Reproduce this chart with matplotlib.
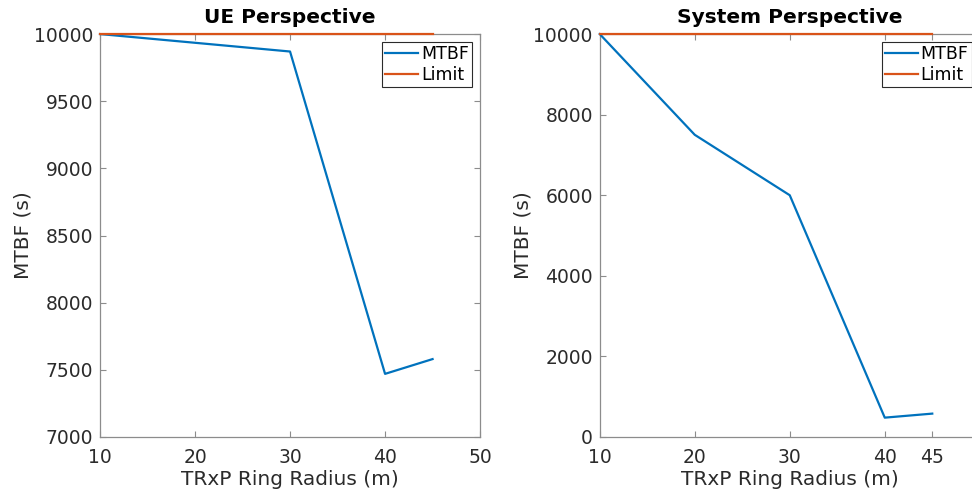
import matplotlib
matplotlib.use("Agg")
import matplotlib.pyplot as plt

# Ring radius (m) and mean time between failures (s)
ue_radius = [10, 30, 40, 45]
ue_mtbf = [10000, 9870, 7470, 7580]

sys_radius = [10, 20, 30, 40, 45]
sys_mtbf = [10000, 7500, 6000, 480, 580]

limit_radius = [10, 45]
limit_value = [10000, 10000]

ue_xticks = [10, 20, 30, 40, 50]
ue_yticks = [7000, 7500, 8000, 8500, 9000, 9500, 10000]
sys_xticks = [10, 20, 30, 40, 45]
sys_yticks = [0, 2000, 4000, 6000, 8000, 10000]

BLUE = "#0072BD"
ORANGE = "#D95319"
AXC = "#8c8c8c"
TXT = "#2b2b2b"

plt.rcParams["font.family"] = ["DejaVu Sans"]

fig = plt.figure(figsize=(9.72, 4.95), dpi=100)
ax1 = fig.add_axes([0.1029, 0.1172, 0.391, 0.814])
ax2 = fig.add_axes([0.617, 0.1172, 0.391, 0.814])


def style(ax, xticks, yticks, xlim, ylim, title):
    ax.set_xlim(*xlim)
    ax.set_ylim(*ylim)
    ax.set_xticks(xticks)
    ax.set_yticks(yticks)
    ax.tick_params(direction="in", length=4, width=0.8, colors=AXC,
                   labelcolor=TXT, labelsize=13.5, top=True, right=True)
    ax.tick_params(axis="x", pad=8)
    ax.tick_params(axis="y", pad=5)
    for s in ax.spines.values():
        s.set_color(AXC)
        s.set_linewidth(0.9)
    ax.set_xlabel("TRxP Ring Radius (m)", fontsize=14.5, color=TXT, labelpad=2)
    ax.set_ylabel("MTBF (s)", fontsize=14.5, color=TXT, labelpad=1)
    ax.set_title(title, fontsize=14.5, fontweight="bold", color="black", pad=8)
    leg = ax.legend(loc="upper right", fontsize=12.5, handlelength=1.9,
                    handletextpad=0.15, borderpad=0.2, labelspacing=0.15,
                    fancybox=False, framealpha=1, borderaxespad=0.45)
    leg.get_frame().set_edgecolor(TXT)
    leg.get_frame().set_linewidth(0.8)


ax1.plot(ue_radius, ue_mtbf, color=BLUE, lw=1.6, label="MTBF",
         clip_on=False, zorder=3)
ax1.plot(limit_radius, limit_value, color=ORANGE, lw=1.6, label="Limit",
         clip_on=False, zorder=3)
style(ax1, ue_xticks, ue_yticks, (10, 50), (7000, 10000), "UE Perspective")

ax2.plot(sys_radius, sys_mtbf, color=BLUE, lw=1.6, label="MTBF",
         clip_on=False, zorder=3)
ax2.plot(limit_radius, limit_value, color=ORANGE, lw=1.6, label="Limit",
         clip_on=False, zorder=3)
style(ax2, sys_xticks, sys_yticks, (10, 50), (0, 10000), "System Perspective")

fig.savefig("out.png", dpi=100)
